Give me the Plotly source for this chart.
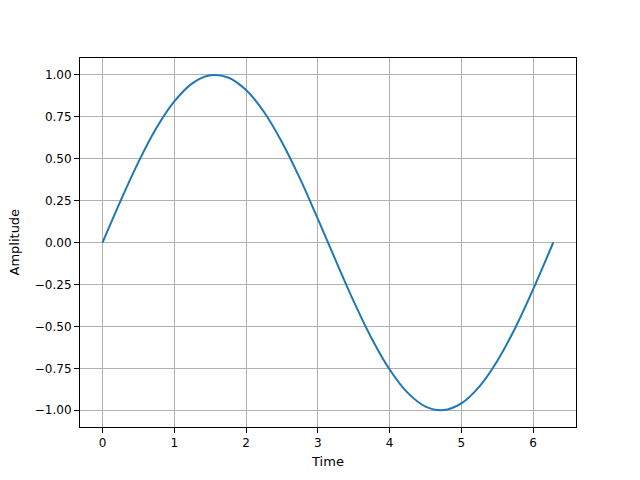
import plotly.graph_objects as go

time_vals = [0.0, 0.25, 0.5, 0.75, 1.0, 1.25, 1.5, 1.75, 2.0, 2.25, 2.5, 2.75, 3.0,
             3.25, 3.5, 3.75, 4.0, 4.25, 4.5, 4.75, 5.0, 5.25, 5.5, 5.75, 6.0, 6.28]
amplitude = [0.0, 0.247, 0.479, 0.682, 0.841, 0.949, 0.997, 0.984, 0.909, 0.778, 0.598, 0.382, 0.141,
             -0.108, -0.351, -0.572, -0.757, -0.895, -0.978, -0.999, -0.959, -0.859, -0.706, -0.510, -0.279, 0.0]
x_ticks = [0, 1, 2, 3, 4, 5, 6]
y_ticks = [-1.0, -0.75, -0.5, -0.25, 0.0, 0.25, 0.5, 0.75, 1.0]

fig = go.Figure(go.Scatter(x=time_vals, y=amplitude, mode="lines",
                           line=dict(color="#1f77b4", width=2, shape="spline", smoothing=1.0)))

axis_common = dict(showline=True, linecolor="black", linewidth=1, mirror=True,
                   ticks="outside", ticklen=5, tickcolor="black", showgrid=True,
                   gridcolor="#b0b0b0", gridwidth=1, zeroline=False,
                   tickfont=dict(family="DejaVu Sans", size=12, color="black"))

fig.update_layout(
    width=640, height=480,
    margin=dict(l=72, r=72, t=50, b=61),
    paper_bgcolor="white", plot_bgcolor="white",
    showlegend=False,
    xaxis=dict(range=[-0.314, 6.597], tickvals=x_ticks,
               title=dict(text="Time", font=dict(family="DejaVu Sans", size=13, color="black"), standoff=7),
               **axis_common),
    yaxis=dict(range=[-1.1, 1.1], tickvals=y_ticks, tickformat=".2f", **axis_common),
    annotations=[dict(text="Amplitude", xref="paper", yref="paper", x=0, y=0.5,
                      xanchor="center", yanchor="middle", xshift=-66, textangle=-90,
                      showarrow=False, font=dict(family="DejaVu Sans", size=13, color="black"))],
)

fig.write_html("out.html")
